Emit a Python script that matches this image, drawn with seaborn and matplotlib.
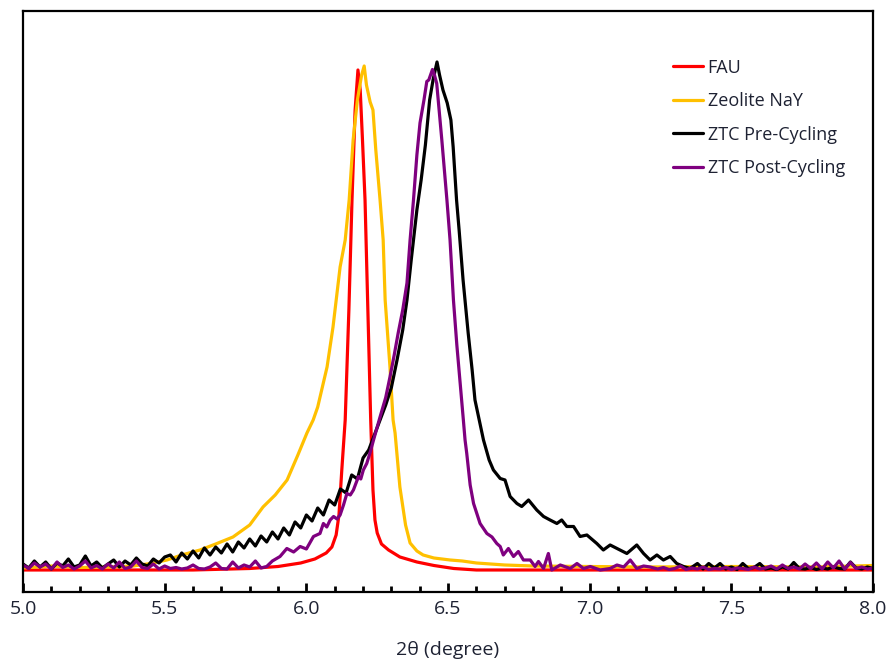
import matplotlib
matplotlib.use("Agg")
import matplotlib.pyplot as plt
from matplotlib.ticker import MultipleLocator, FormatStrFormatter
import seaborn as sns


# FAU (red) - smooth narrow peak
fau_x = [5.00, 5.60, 5.80, 5.90, 5.98, 6.03, 6.07, 6.09, 6.105, 6.115, 6.125, 6.137, 6.15, 6.161,
         6.172, 6.182, 6.19, 6.198, 6.207, 6.217, 6.227, 6.235, 6.242, 6.25, 6.265, 6.29, 6.33,
         6.39, 6.45, 6.52, 6.60, 8.00]
fau_y = [0.0, 0.0, 0.3, 0.7, 1.4, 2.2, 3.4, 4.6, 7.0, 11.0, 20.0, 30.0, 52.0, 74.0,
         92.0, 100.0, 96.0, 86.0, 74.0, 52.0, 30.0, 16.0, 10.0, 7.4, 5.2, 4.0, 2.6,
         1.6, 0.9, 0.3, 0.0, 0.0]

# Zeolite NaY (gold)
nay_x = [5.00, 5.10, 5.20, 5.30, 5.39, 5.45, 5.508, 5.56, 5.625, 5.68, 5.741, 5.80, 5.847, 5.89,
         5.932, 5.97, 6.002, 6.024, 6.04, 6.073, 6.094, 6.119, 6.137, 6.151, 6.165, 6.18, 6.195,
         6.204, 6.212, 6.225, 6.235, 6.245, 6.26, 6.271, 6.278, 6.295, 6.306, 6.313, 6.33, 6.35,
         6.366, 6.39, 6.412, 6.45, 6.507, 6.55, 6.60, 6.70, 6.80, 7.00, 7.20, 7.50, 7.80, 8.00]
nay_y = [0.4, 0.8, 0.5, 0.6, 0.8, 1.3, 2.0, 3.0, 4.0, 5.2, 6.6, 9.0, 12.6, 15.0,
         18.0, 23.0, 27.4, 30.0, 32.6, 40.6, 48.6, 60.6, 66.0, 74.0, 86.0, 94.0, 99.0,
         100.8, 97.0, 93.6, 92.0, 84.0, 74.0, 66.0, 54.0, 40.6, 30.0, 27.4, 16.6, 9.0,
         5.4, 3.8, 3.0, 2.4, 2.0, 1.8, 1.4, 1.0, 0.8, 0.7, 0.6, 0.7, 0.6, 0.9]

# ZTC Pre-Cycling (black) - noisy, broad
pre_x = [5.00, 5.02, 5.04, 5.06, 5.08, 5.10, 5.12, 5.14, 5.16, 5.18, 5.20, 5.22, 5.24, 5.26,
         5.28, 5.30, 5.32, 5.34, 5.36, 5.38, 5.40, 5.42, 5.44, 5.46, 5.48, 5.50,
         5.52, 5.54, 5.56, 5.58, 5.60, 5.62, 5.64, 5.66, 5.68, 5.70, 5.72, 5.74, 5.76, 5.78,
         5.80, 5.82, 5.84, 5.86, 5.88, 5.90, 5.92, 5.94, 5.96, 5.98, 6.00, 6.02, 6.04, 6.06,
         6.08, 6.10, 6.12, 6.14, 6.16, 6.18, 6.20,
         6.22, 6.24, 6.26, 6.28, 6.30, 6.32, 6.34,
         6.355, 6.37, 6.39, 6.405, 6.42, 6.435, 6.447, 6.455, 6.461, 6.47, 6.482, 6.497, 6.51,
         6.518, 6.53, 6.539, 6.553, 6.571, 6.585, 6.595, 6.61, 6.625, 6.645, 6.66,
         6.684, 6.701, 6.719, 6.743, 6.76, 6.784, 6.813, 6.837, 6.86, 6.884, 6.901, 6.919,
         6.943, 6.966, 6.99, 7.025, 7.048, 7.072, 7.096, 7.131, 7.166, 7.19, 7.213, 7.237,
         7.26, 7.284, 7.307, 7.331, 7.354,
         7.38, 7.40, 7.42, 7.44, 7.46, 7.48, 7.50, 7.52, 7.54, 7.56, 7.58, 7.60, 7.62, 7.64,
         7.66, 7.68, 7.70, 7.72, 7.74, 7.76, 7.78, 7.80, 7.82, 7.84, 7.86, 7.88, 7.90, 7.92,
         7.94, 7.96, 7.98, 8.00]
pre_y = [1.2, 0.4, 1.8, 0.6, 1.6, 0.2, 1.4, 0.8, 2.2, 0.6, 1.0, 2.8, 0.8, 1.6,
         0.4, 1.2, 2.0, 0.6, 1.8, 1.0, 2.4, 1.2, 0.8, 2.2, 1.4, 2.6,
         3.0, 1.6, 3.4, 2.2, 3.8, 2.4, 4.4, 3.0, 4.6, 3.4, 5.2, 3.6, 5.6, 4.4,
         6.2, 4.8, 6.8, 5.6, 7.6, 6.2, 8.4, 7.0, 9.6, 8.4, 11.0, 9.8, 12.4, 11.0,
         14.0, 13.0, 16.2, 15.4, 19.0, 18.2, 22.4,
         24.0, 27.0, 30.0, 33.0, 36.5, 42.0, 48.0,
         54.0, 62.0, 72.0, 78.0, 85.0, 94.0, 98.0, 100.0, 101.6, 99.0, 96.0, 93.4, 90.0,
         84.6, 74.0, 68.0, 58.0, 47.4, 40.0, 34.0, 30.0, 26.0, 22.0, 20.0,
         18.3, 18.0, 14.7, 13.3, 12.7, 14.0, 12.0, 10.7, 10.0, 9.3, 10.0, 8.7,
         8.7, 6.7, 7.0, 5.3, 4.0, 5.0, 4.3, 3.3, 5.0, 3.3, 2.0, 3.0,
         2.0, 2.7, 1.3, 0.7, 0.3,
         1.3, 0.2, 1.3, 0.4, 1.3, 0.2, 0.6, 0.1, 1.3, 0.3, 0.5, 1.3, 0.2, 0.4,
         0.1, 0.6, 0.2, 1.5, 0.3, 0.2, 0.5, 0.1, 0.4, 0.2, 0.6, 0.3, 0.2, 1.6,
         0.4, 0.2, 0.6, 0.3]

# ZTC Post-Cycling (purple)
post_x = [5.00, 5.02, 5.04, 5.06, 5.08, 5.10, 5.12, 5.14, 5.16, 5.18, 5.20, 5.22, 5.24, 5.26,
          5.28, 5.30, 5.32, 5.34, 5.36, 5.38, 5.40, 5.42, 5.44, 5.46, 5.48, 5.50, 5.52, 5.54,
          5.56, 5.58, 5.60, 5.62, 5.64, 5.66, 5.68, 5.70, 5.72, 5.74, 5.76, 5.78, 5.80, 5.82,
          5.84,
          5.86, 5.88, 5.907, 5.931, 5.955, 5.978, 6.00, 6.025, 6.048, 6.06, 6.072, 6.084, 6.096,
          6.108, 6.119, 6.131, 6.143, 6.155, 6.166, 6.184, 6.192, 6.201, 6.213, 6.225, 6.237,
          6.26, 6.28, 6.295, 6.31, 6.324, 6.34, 6.355, 6.366, 6.378, 6.39, 6.401, 6.415, 6.425,
          6.432, 6.445, 6.452, 6.46, 6.478, 6.496, 6.507, 6.519, 6.531, 6.543, 6.554, 6.56,
          6.566, 6.578, 6.59, 6.613, 6.637, 6.655, 6.672, 6.684, 6.695, 6.713, 6.731, 6.748,
          6.766, 6.79, 6.807, 6.819, 6.837, 6.854, 6.866, 6.896, 6.931, 6.955, 6.978, 7.002,
          7.037, 7.072, 7.096, 7.12, 7.143, 7.166, 7.19, 7.213,
          7.24, 7.26, 7.28, 7.30, 7.32, 7.34, 7.36, 7.38, 7.40, 7.42, 7.44, 7.46, 7.48, 7.50,
          7.52, 7.54, 7.56, 7.58, 7.60, 7.62, 7.64, 7.66, 7.68, 7.70, 7.72, 7.74, 7.76, 7.78,
          7.80, 7.82, 7.84, 7.86, 7.88, 7.90, 7.92, 7.94, 7.96, 7.98, 8.00]
post_y = [1.0, 0.3, 1.4, 0.6, 1.2, 0.2, 1.6, 0.5, 1.0, 0.2, 0.8, 1.8, 0.4, 0.9,
          0.2, 1.2, 0.4, 1.6, 0.3, 0.6, 1.8, 0.5, 0.3, 1.2, 0.2, 0.8, 0.3, 0.5,
          0.2, 0.4, 1.0, 0.3, 0.2, 0.6, 1.4, 0.3, 0.2, 1.6, 0.4, 1.0, 0.6, 1.8,
          0.4,
          0.7, 1.8, 2.7, 4.3, 3.6, 4.7, 4.2, 6.7, 7.3, 9.3, 8.6, 10.0, 10.7,
          10.2, 11.0, 13.0, 15.3, 15.0, 16.0, 18.7, 18.2, 20.0, 21.3, 23.5, 26.0,
          30.6, 34.5, 38.6, 43.0, 47.4, 52.0, 57.4, 66.0, 74.0, 83.0, 89.4, 94.0, 97.7,
          98.0, 100.1, 99.0, 97.3, 86.0, 74.0, 66.0, 54.0, 45.0, 37.3, 30.0, 26.0,
          23.3, 17.0, 13.3, 9.3, 7.3, 6.6, 5.3, 4.7, 3.0, 4.3, 2.7, 3.7,
          2.0, 2.0, 0.7, 1.7, 0.3, 3.3, 0.0, 1.0, 0.3, 1.3, 0.3, 0.7,
          0.0, 0.3, 1.0, 0.6, 2.0, 0.3, 0.8, 0.6,
          0.2, 0.5, 0.1, 0.3, 0.8, 0.1, 0.4, 0.2, 0.6, 0.1, 0.3, 0.2, 0.5, 0.1,
          0.4, 0.3, 0.1, 0.6, 0.2, 0.4, 0.8, 0.2, 1.0, 0.3, 0.6, 0.2, 1.2, 0.3,
          1.4, 0.2, 1.6, 0.4, 1.8, 0.2, 1.5, 0.3, 0.6, 0.2, 0.4]

labels = ["FAU", "Zeolite NaY", "ZTC Pre-Cycling", "ZTC Post-Cycling"]
colors = ["#FF0000", "#FFC000", "#000000", "#7F007F"]
x_ticks = [5.0, 5.5, 6.0, 6.5, 7.0, 7.5, 8.0]

text_color = "#1E2233"


def main():
    sns.set_style("ticks")
    plt.rcParams["font.family"] = ["Open Sans", "DejaVu Sans"]

    fig = plt.figure(figsize=(8.89, 6.61), dpi=100)
    ax = fig.add_axes([0.0259, 0.1044, 0.9562, 0.879])

    all_x = [fau_x, nay_x, pre_x, post_x]
    all_y = [fau_y, nay_y, pre_y, post_y]
    for xs, ys, c, lab in zip(all_x, all_y, colors, labels):
        sns.lineplot(x=xs, y=ys, color=c, label=lab, linewidth=2.3, ax=ax)

    ax.set_xlim(5.0, 8.0)
    ax.set_ylim(-4.4, 111.8)
    ax.set_xticks(x_ticks)
    ax.xaxis.set_minor_locator(MultipleLocator(0.1))
    ax.xaxis.set_major_formatter(FormatStrFormatter("%.1f"))
    ax.tick_params(axis="x", which="major", direction="in", length=6.5, width=2.0, color="#000000")
    ax.tick_params(axis="x", which="minor", direction="in", length=4.5, width=2.0, color="#000000")
    ax.tick_params(axis="x", labelsize=14, pad=6, labelcolor=text_color)
    ax.set_yticks([])
    ax.set_ylabel("")
    for s in ax.spines.values():
        s.set_color("black")
        s.set_linewidth(1.6)

    ax.set_xlabel("2θ (degree)", fontsize=14, labelpad=16, color=text_color)

    ax.legend(loc="upper left", bbox_to_anchor=(0.765, 0.918), frameon=False, fontsize=13,
              handlelength=1.65, handletextpad=0.25, labelspacing=0.86, borderaxespad=0,
              borderpad=0, labelcolor=text_color)

    fig.savefig("out.png", dpi=100)


if __name__ == "__main__":
    main()
